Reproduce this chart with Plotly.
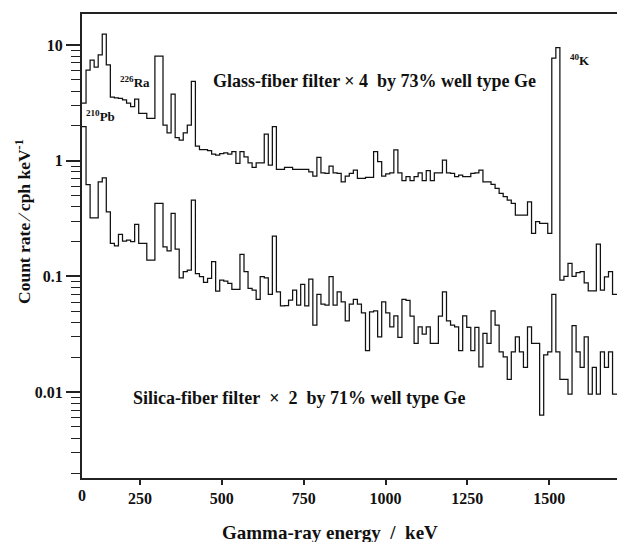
import numpy as np
import plotly.graph_objects as go

# Energy binning of the histogram (keV)
BIN_START_KEV = 73.0
BIN_WIDTH_KEV = 12.37

# Glass-fiber filter x4 (73% well type Ge), count rate per bin (cph/keV)
glass = [3.15, 6.08, 7.42, 6.45, 8.2, 12.45, 6.72, 3.55, 3.5, 3.45,
         3.35, 3.15, 2.93, 3.41, 2.57, 2.57, 2.32, 2.32, 8.03, 8.03,
         2.03, 1.74, 3.77, 1.58, 1.51, 1.74, 2.03, 4.84, 1.34, 1.25,
         1.25, 1.22, 1.14, 1.12, 1.15, 1.17, 1.14, 1.20, 0.95, 1.20,
         1.08, 0.96, 0.877, 0.96, 0.96, 1.70, 0.918, 1.97, 0.843, 0.843,
         0.877, 0.877, 0.843, 0.843, 0.84, 0.84, 0.80, 0.737, 1.07, 0.787,
         0.778, 0.90, 0.787, 0.778, 0.658, 0.737, 0.778, 0.83, 0.704, 0.704,
         0.718, 0.718, 1.20, 0.98, 0.737, 0.768, 0.787, 1.24, 0.787, 0.672,
         0.727, 0.672, 0.727, 0.787, 0.672, 0.82, 0.672, 0.787, 0.787, 1.01,
         0.787, 0.778, 0.727, 0.752, 0.727, 0.727, 0.778, 0.787, 0.83, 0.658,
         0.658, 0.625, 0.577, 0.523, 0.489, 0.457, 0.428, 0.339, 0.339, 0.339,
         0.442, 0.236, 0.297, 0.288, 0.288, 0.236, 7.72, 9.48, 0.093, 0.10,
         0.130, 0.10, 0.108, 0.11, 0.088, 0.075, 0.075, 0.19, 0.076, 0.099,
         0.11, 0.070, 0.070]

# Silica-fiber filter x2 (71% well type Ge)
silica = [1.97, 0.62, 0.32, 0.32, 0.658, 0.71, 0.362, 0.193, 0.184, 0.231,
          0.202, 0.206, 0.20, 0.282, 0.193, 0.193, 0.1385, 0.1385, 0.428, 0.428,
          0.18, 0.166, 0.35, 0.1725, 0.0974, 0.1098, 0.1136, 0.457, 0.106, 0.0994,
          0.0889, 0.0963, 0.134, 0.0748, 0.0931, 0.0912, 0.0872, 0.0774, 0.0774, 0.155,
          0.1098, 0.0789, 0.0763, 0.0634, 0.0994, 0.097, 0.070, 0.2235, 0.0737, 0.0558,
          0.056, 0.0625, 0.076, 0.0566, 0.0854, 0.0558, 0.095, 0.038, 0.070, 0.0575,
          0.0566, 0.0994, 0.0566, 0.0737, 0.0604, 0.0414, 0.0577, 0.0634, 0.0577, 0.0485,
          0.0228, 0.0495, 0.0505, 0.0301, 0.0604, 0.0485, 0.0367, 0.0457, 0.0298, 0.0634,
          0.062, 0.0455, 0.0264, 0.0367, 0.0318, 0.0367, 0.0264, 0.0264, 0.0455, 0.0737,
          0.0414, 0.038, 0.0367, 0.0228, 0.0457, 0.0363, 0.0228, 0.0363, 0.0165, 0.0322,
          0.0264, 0.0505, 0.038, 0.0223, 0.0202, 0.0129, 0.0223, 0.0301, 0.0223, 0.0164,
          0.0367, 0.0264, 0.0264, 0.00634, 0.021, 0.0223, 0.070, 0.0223, 0.0129, 0.0129,
          0.00963, 0.0375, 0.0223, 0.0164, 0.0301, 0.00963, 0.0164, 0.00963, 0.0223, 0.0164,
          0.0223, 0.00963, 0.00963]

# Axis ticks
x_tickvals = [250, 500, 750, 1000, 1250, 1500]
x_ticktext = ["250", "500", "750", "1000", "1250", "1500"]
x_origin_label = "0"
y_tickvals = [0.01, 0.1, 1, 10]
y_ticktext = ["0.01", "0.1", "1", "10"]
y_minor = [m * d for d in (0.001, 0.01, 0.1, 1) for m in range(2, 10)]

FONT = "Liberation Serif"
INK = "#111111"

def step_xy(vals):
    n = len(vals)
    edges = BIN_START_KEV + BIN_WIDTH_KEV * np.arange(n + 1)
    return edges, list(vals) + [vals[-1]]

fig = go.Figure()
for series in (glass, silica):
    x, y = step_xy(series)
    fig.add_trace(go.Scatter(x=x, y=y, mode="lines", line_shape="hv",
                             line=dict(color=INK, width=1.25),
                             showlegend=False, hoverinfo="skip"))

tick_font = dict(family=FONT, size=16, weight="bold", color=INK)
fig.update_layout(
    width=617, height=542,
    margin=dict(l=82, r=0, t=14, b=64),
    paper_bgcolor="white", plot_bgcolor="white",
    font=dict(family=FONT, color=INK),
)
fig.update_xaxes(
    range=[BIN_START_KEV, 1707.1], showgrid=False, zeroline=False,
    showline=True, linecolor="#222222", linewidth=2, mirror=True,
    ticks="outside", ticklen=5, tickwidth=1.5, tickcolor="#222222",
    tickvals=x_tickvals, ticktext=x_ticktext, tickfont=tick_font,
)
fig.update_yaxes(
    type="log", range=[-2.742, 1.268], showgrid=False, zeroline=False,
    showline=True, linecolor="#222222", linewidth=2, mirror=False,
    ticks="outside", ticklen=14, tickwidth=1.5, tickcolor="#222222",
    tickvals=y_tickvals, ticktext=y_ticktext, tickfont=tick_font,
    minor=dict(tickvals=y_minor, ticks="outside", ticklen=9, tickwidth=1.2,
               tickcolor="#222222", showgrid=False),
)

# origin label of the energy axis (drawn at the axis start, like the original)
fig.add_annotation(text=x_origin_label, x=BIN_START_KEV, y=0, xref="x", yref="paper",
                   xanchor="center", yanchor="top", yshift=-7, showarrow=False,
                   font=tick_font)

NB = "\u00a0"
ann = [
    dict(text="Glass-fiber filter " + "×" + NB + "4" + NB + NB + "by 73% well type Ge",
         x=0.5458, y=0.8556, size=18),
    dict(text="Silica-fiber filter" + NB + NB + "×" + NB + NB + "2" + NB + NB + "by 71% well type Ge",
         x=0.4052, y=0.1724, size=18),
    dict(text="<sup>226</sup>Ra", x=0.0991, y=0.8534, size=13),
    dict(text="<sup>210</sup>Pb", x=0.0355, y=0.7802, size=13),
    dict(text="<sup>40</sup>K", x=0.9308, y=0.9009, size=13),
]
for a in ann:
    fig.add_annotation(text=a["text"], x=a["x"], y=a["y"], xref="paper", yref="paper",
                       xanchor="center", yanchor="middle", showarrow=False,
                       font=dict(family=FONT, size=a["size"], weight="bold", color=INK))

fig.add_annotation(text="Count rate" + NB + "∕" + NB + "cph keV<sup>-1</sup>",
                   x=-0.1103, y=0.5539, xref="paper", yref="paper", textangle=-90,
                   xanchor="center", yanchor="middle", showarrow=False,
                   font=dict(family=FONT, size=17.5, weight="bold", color=INK))
fig.add_annotation(text="Gamma-ray" + NB + "energy" + NB + NB + "/" + NB + NB + "keV",
                   x=0.463, y=-0.1164, xref="paper", yref="paper",
                   xanchor="center", yanchor="middle", showarrow=False,
                   font=dict(family=FONT, size=19, weight="bold", color=INK))

fig.write_html("out.html")
